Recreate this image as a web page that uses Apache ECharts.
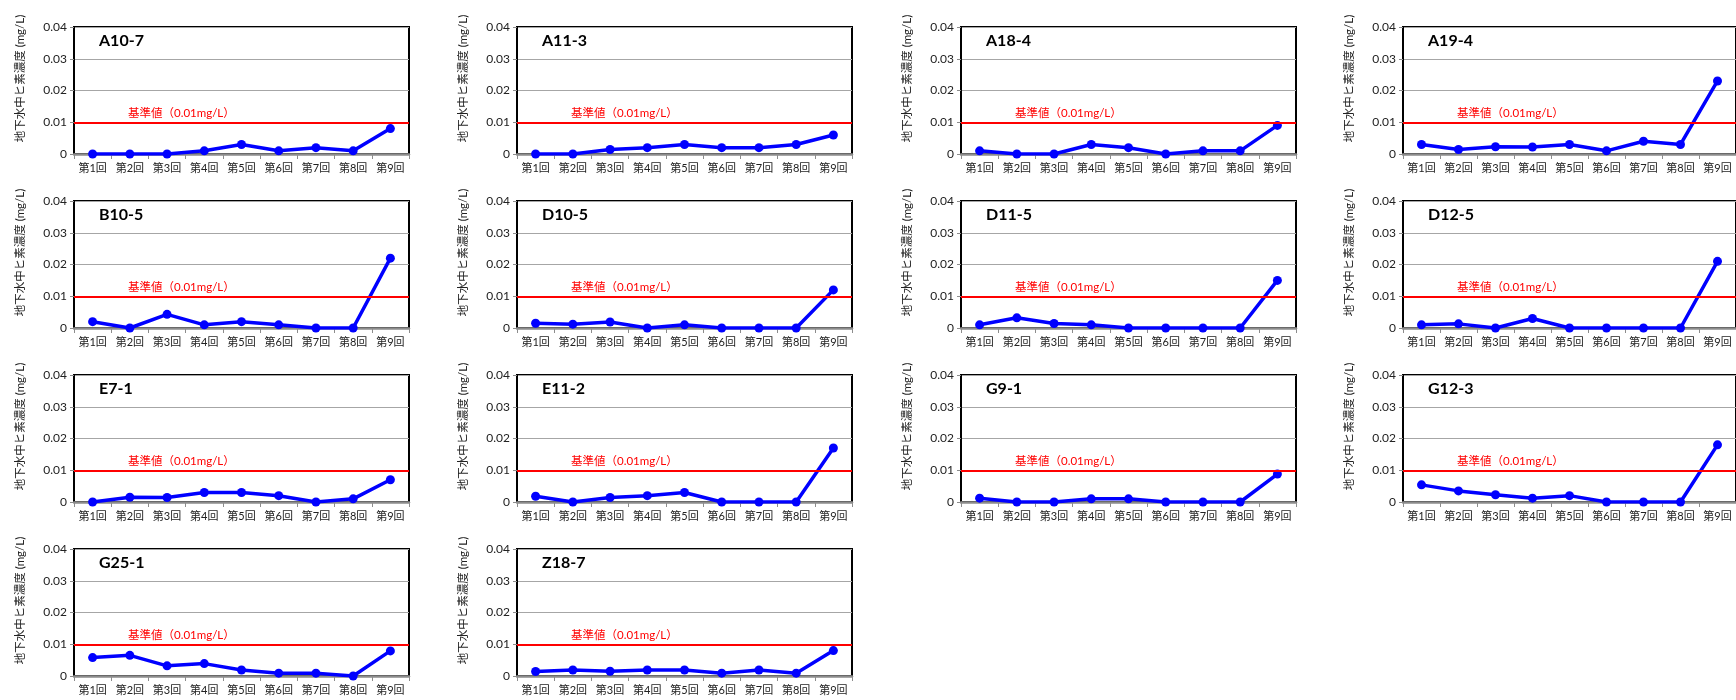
<!DOCTYPE html>
<html><head><meta charset="utf-8">
<script src="https://cdn.jsdelivr.net/npm/echarts@6/dist/echarts.min.js"></script>
<style>html,body{margin:0;padding:0;background:#fff}#c{width:1736px;height:700px}</style>
</head><body><div id="c"></div>
<script>
const categories = ['第1回','第2回','第3回','第4回','第5回','第6回','第7回','第8回','第9回'];
const yTickLabels = ['0','0.01','0.02','0.03','0.04'];
const wellNames = ['A10-7','A11-3','A18-4','A19-4','B10-5','D10-5','D11-5','D12-5','E7-1','E11-2','G9-1','G12-3','G25-1','Z18-7'];
const standardValue = 0.01;
const standardLabel = '基準値（0.01mg/L）';
const yAxisTitle = '地下水中ヒ素濃度 (mg/L)';

const A10_7 = [0, 0, 0, 0.001, 0.003, 0.001, 0.002, 0.001, 0.008];
const A11_3 = [0, 0, 0.0014, 0.002, 0.003, 0.002, 0.002, 0.003, 0.006];
const A18_4 = [0.001, 0, 0, 0.003, 0.002, 0, 0.001, 0.001, 0.009];
const A19_4 = [0.003, 0.0014, 0.0023, 0.0022, 0.003, 0.001, 0.004, 0.003, 0.023];
const B10_5 = [0.002, 0, 0.0043, 0.001, 0.002, 0.001, 0, 0, 0.022];
const D10_5 = [0.0015, 0.0012, 0.0019, 0, 0.001, 0, 0, 0, 0.012];
const D11_5 = [0.001, 0.0032, 0.0014, 0.001, 0, 0, 0, 0, 0.015];
const D12_5 = [0.001, 0.0013, 0, 0.003, 0, 0, 0, 0, 0.021];
const E7_1  = [0, 0.0015, 0.0014, 0.003, 0.003, 0.002, 0, 0.001, 0.007];
const E11_2 = [0.0018, 0, 0.0014, 0.002, 0.003, 0, 0, 0, 0.017];
const G9_1  = [0.0012, 0, 0, 0.001, 0.001, 0, 0, 0, 0.0088];
const G12_3 = [0.0054, 0.0035, 0.0023, 0.0012, 0.002, 0, 0, 0, 0.018];
const G25_1 = [0.0058, 0.0065, 0.0032, 0.0039, 0.0019, 0.0009, 0.0009, 0, 0.0079];
const Z18_7 = [0.0014, 0.0019, 0.0015, 0.0019, 0.0019, 0.0009, 0.0019, 0.0009, 0.008];
const wellData = [A10_7, A11_3, A18_4, A19_4, B10_5, D10_5, D11_5, D12_5, E7_1, E11_2, G9_1, G12_3, G25_1, Z18_7];

const colLeft = [74, 517, 961, 1403];
const rowTop = [27, 201, 375, 549];
const W = 335, H = 127;
const FF = 'Lato, "Noto Sans CJK JP", sans-serif';

const grids = [], xAxes = [], yAxes = [], series = [], titles = [];
wellNames.forEach((name, i) => {
  const r = Math.floor(i / 4), c = i % 4;
  const left = colLeft[c], top = rowTop[r];
  grids.push({left: left, top: top, width: W, height: H, show: true, borderColor: '#000', borderWidth: 2, backgroundColor: 'transparent'});
  xAxes.push({
    type: 'category', gridIndex: i, data: categories, boundaryGap: true,
    axisLine: {show: true, lineStyle: {color: '#8c8c8c', width: 2.5}},
    axisTick: {show: true, length: 5, lineStyle: {color: '#8c8c8c'}},
    axisLabel: {interval: 0, fontSize: 11, color: '#222', margin: 9, fontFamily: FF},
    splitLine: {show: false}
  });
  yAxes.push({
    type: 'value', gridIndex: i, min: 0, max: 0.04, interval: 0.01,
    name: yAxisTitle, nameLocation: 'middle', nameGap: 48,
    nameTextStyle: {fontSize: 11.5, color: '#222', fontFamily: FF, padding: [0, 0, 0, 24]},
    axisLine: {show: true, lineStyle: {color: '#000', width: 2}},
    axisTick: {show: true, length: 4, lineStyle: {color: '#8c8c8c'}},
    axisLabel: {fontSize: 12, color: '#222', margin: 7, fontFamily: FF,
      formatter: v => yTickLabels[Math.round(v / 0.01)]},
    splitLine: {show: true, lineStyle: {color: '#a6a6a6', width: 1}}
  });
  titles.push({text: name, left: left + 25, top: top + 6, padding: 0,
    textStyle: {fontSize: 16, fontWeight: 'bold', color: '#000', fontFamily: FF}});
  series.push({
    type: 'line', xAxisIndex: i, yAxisIndex: i, data: wellData[i],
    symbol: 'circle', symbolSize: 9, color: '#0000ff',
    lineStyle: {color: '#0000ff', width: 3.5}, itemStyle: {color: '#0000ff'},
    z: 3, animation: false,
    markLine: {
      silent: true, symbol: ['none', 'none'],
      lineStyle: {color: '#ff0000', width: 2, type: 'solid'},
      label: {show: true, position: 'insideStartTop', formatter: standardLabel,
        color: '#ff0000', fontSize: 11.5, fontFamily: FF, distance: [54, 3]},
      data: [{yAxis: standardValue}]
    }
  });
});

const chart = echarts.init(document.getElementById('c'), null, {renderer: 'canvas'});
chart.setOption({
  animation: false, backgroundColor: '#fff',
  title: titles, grid: grids, xAxis: xAxes, yAxis: yAxes, series: series
});
</script></body></html>
